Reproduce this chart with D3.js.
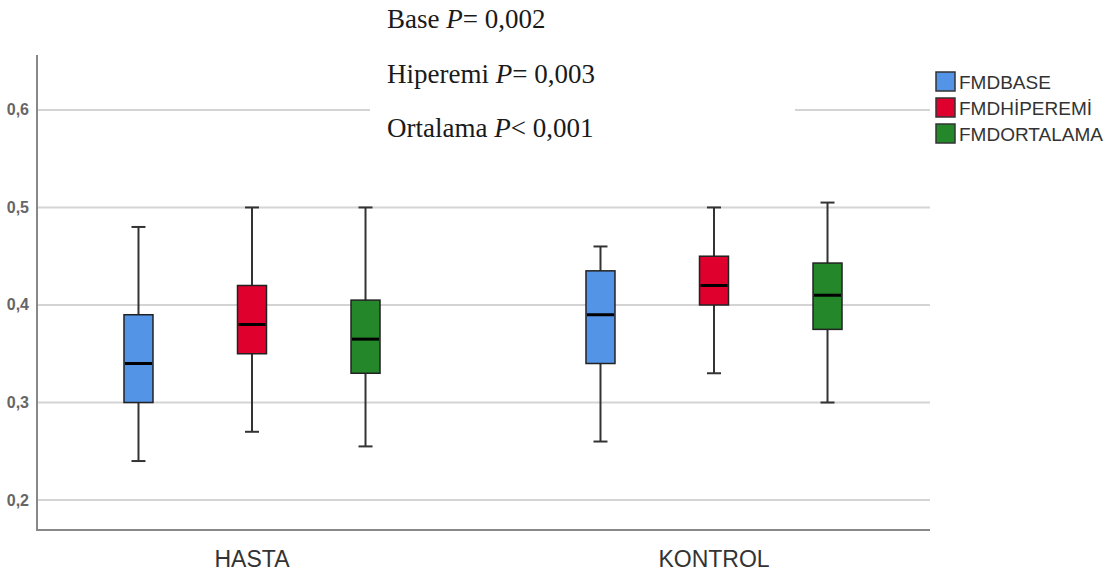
<!DOCTYPE html>
<html>
<head>
<meta charset="utf-8">
<script src="https://cdn.jsdelivr.net/npm/d3@7"></script>
<style>
  body { margin: 0; background: #fff; }
  svg { display: block; }
</style>
</head>
<body>
<div id="chart"></div>
<script>
var categories = ["HASTA", "KONTROL"];
var series = ["FMDBASE", "FMDHİPEREMİ", "FMDORTALAMA"];
var colors = ["#5394e6", "#e0002e", "#24882a"];
// [min, q1, median, q3, max] per series, per category
var hasta = [
  [0.24, 0.30, 0.34, 0.39, 0.48],
  [0.27, 0.35, 0.38, 0.42, 0.50],
  [0.255, 0.33, 0.365, 0.405, 0.50]
];
var kontrol = [
  [0.26, 0.34, 0.39, 0.435, 0.46],
  [0.33, 0.40, 0.42, 0.45, 0.50],
  [0.30, 0.375, 0.41, 0.443, 0.505]
];
var yTicks = [0.2, 0.3, 0.4, 0.5, 0.6];
var notes = [
  ["Base ", "P", "= 0,002"],
  ["Hiperemi ", "P", "= 0,003"],
  ["Ortalama ", "P", "< 0,001"]
];

var w = 1119, h = 577;
var mLeft = 37, mRight = 930, mTop = 55, mBottom = 530;

var svg = d3.select("#chart").append("svg")
    .attr("width", w).attr("height", h);

var y = d3.scaleLinear().domain([0.1693, 0.6563]).range([mBottom, mTop]);
var x = d3.scaleBand().domain(categories).range([21, 945]);
var xs = d3.scaleBand().domain(series).range([0, x.bandwidth()]).paddingInner(0.02).paddingOuter(0.545);

// grid
svg.selectAll("line.grid").data(yTicks).enter().append("line")
    .attr("x1", mLeft).attr("x2", mRight)
    .attr("y1", function(d) { return y(d); })
    .attr("y2", function(d) { return y(d); })
    .attr("stroke", "#d4d4d4").attr("stroke-width", 2);

// tick labels
svg.selectAll("text.tick").data(yTicks).enter().append("text")
    .attr("x", 29).attr("y", function(d) { return y(d) + 5.5; })
    .attr("text-anchor", "end")
    .attr("font-family", "Liberation Sans, Arial, sans-serif")
    .attr("font-size", "16px").attr("font-weight", "bold").attr("fill", "#666")
    .text(function(d) { return d3.format(".1f")(d).replace(".", ","); });

// axes
svg.append("line").attr("x1", mLeft).attr("x2", mLeft).attr("y1", mTop).attr("y2", mBottom)
    .attr("stroke", "#888").attr("stroke-width", 2);
svg.append("line").attr("x1", mLeft - 1).attr("x2", mRight).attr("y1", mBottom).attr("y2", mBottom)
    .attr("stroke", "#888").attr("stroke-width", 2);

// category labels
svg.selectAll("text.cat").data(categories).enter().append("text")
    .attr("x", function(d) { return x(d) + x.bandwidth() / 2; })
    .attr("y", 567)
    .attr("text-anchor", "middle")
    .attr("font-family", "Liberation Sans, Arial, sans-serif")
    .attr("font-size", "23px").attr("fill", "#333")
    .text(function(d) { return d; });

// boxes
var data = [];
[hasta, kontrol].forEach(function(grp, ci) {
  grp.forEach(function(v, si) {
    data.push({cat: categories[ci], s: series[si], c: colors[si], v: v});
  });
});

var bw = 29, cap = 14;
var g = svg.selectAll("g.box").data(data).enter().append("g")
    .attr("transform", function(d) {
      return "translate(" + (x(d.cat) + xs(d.s) + xs.bandwidth() / 2) + ",0)";
    });

g.append("line").attr("x1", 0).attr("x2", 0)
    .attr("y1", function(d) { return y(d.v[0]); })
    .attr("y2", function(d) { return y(d.v[4]); })
    .attr("stroke", "#333").attr("stroke-width", 2);
g.append("line").attr("x1", -cap / 2).attr("x2", cap / 2)
    .attr("y1", function(d) { return y(d.v[0]); })
    .attr("y2", function(d) { return y(d.v[0]); })
    .attr("stroke", "#333").attr("stroke-width", 2);
g.append("line").attr("x1", -cap / 2).attr("x2", cap / 2)
    .attr("y1", function(d) { return y(d.v[4]); })
    .attr("y2", function(d) { return y(d.v[4]); })
    .attr("stroke", "#333").attr("stroke-width", 2);
g.append("rect")
    .attr("x", -bw / 2).attr("width", bw)
    .attr("y", function(d) { return y(d.v[3]); })
    .attr("height", function(d) { return y(d.v[1]) - y(d.v[3]); })
    .attr("fill", function(d) { return d.c; })
    .attr("stroke", "#222").attr("stroke-width", 1.5);
g.append("line").attr("x1", -bw / 2 + 1).attr("x2", bw / 2 - 1)
    .attr("y1", function(d) { return y(d.v[2]); })
    .attr("y2", function(d) { return y(d.v[2]); })
    .attr("stroke", "#000").attr("stroke-width", 3);

// annotation box
svg.append("rect").attr("x", 370).attr("y", 0).attr("width", 425).attr("height", 150)
    .attr("fill", "#fff");
var t = svg.selectAll("text.note").data(notes).enter().append("text")
    .attr("x", 387).attr("y", function(d, i) { return 28 + i * 54.5; })
    .attr("font-family", "Liberation Serif, Times New Roman, serif")
    .attr("font-size", "27px").attr("fill", "#1a1a1a");
t.append("tspan").text(function(d) { return d[0]; });
t.append("tspan").attr("font-style", "italic").text(function(d) { return d[1]; });
t.append("tspan").text(function(d) { return d[2]; });

// legend
var lg = svg.selectAll("g.leg").data(series).enter().append("g")
    .attr("transform", function(d, i) { return "translate(936," + (72 + i * 26) + ")"; });
lg.append("rect").attr("width", 19).attr("height", 19)
    .attr("fill", function(d, i) { return colors[i]; })
    .attr("stroke", "#333").attr("stroke-width", 1.5);
lg.append("text").attr("x", 23).attr("y", 17)
    .attr("font-family", "Liberation Sans, Arial, sans-serif")
    .attr("font-size", "19px").attr("fill", "#333")
    .text(function(d) { return d; });
</script>
</body>
</html>
